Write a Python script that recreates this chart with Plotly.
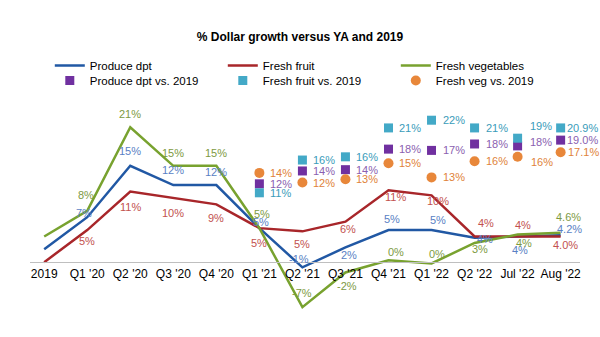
import plotly.graph_objects as go

categories = ["2019", "Q1 '20", "Q2 '20", "Q3 '20", "Q4 '20", "Q1 '21", "Q2 '21",
              "Q3 '21", "Q4 '21", "Q1 '22", "Q2 '22", "Jul '22", "Aug '22"]

produce_ya = [2, 7, 15, 12, 12, 5.3, -0.8, 2.3, 5, 5, 3.8, 4, 4.2]
fruit_ya = [0, 5, 11, 10, 9, 5.3, 4.8, 6.3, 11.2, 10.4, 4, 4, 4.0]
veg_ya = [4, 8, 21, 15, 15, 5.3, -7, -1.6, 0.3, -0.2, 3, 4.3, 4.6]

vs_categories = categories[5:]
produce_vs19 = [12.2, 14.2, 14.4, 17.6, 17.4, 18.4, 18.1, 19.0]
fruit_vs19 = [10.8, 15.9, 16.4, 20.9, 22.1, 20.9, 19.3, 20.9]
veg_vs19 = [13.9, 12.4, 12.9, 15.4, 13.2, 15.7, 16.4, 17.1]


def fmt(vals):
    out = []
    for i, v in enumerate(vals):
        if i == len(vals) - 1:
            out.append(f"{v:.1f}%")
        else:
            out.append(f"{round(v):.0f}%")
    return out


FONT = "Arial, Liberation Sans, sans-serif"
C_BLUE, C_RED, C_GREEN = "#2158a4", "#a8262a", "#78a22f"
T_BLUE, T_RED, T_GREEN = "#5a7fc4", "#c2514e", "#7d9a3f"
C_PURPLE, C_TEAL, C_ORANGE = "#7030a0", "#43a9c7", "#e8873a"
T_PURPLE, T_TEAL, T_ORANGE = "#8a5fb0", "#3a9cba", "#e0833a"

# pixel offsets for the YA line labels (style only)
off_blue = [(-19, -4), (-3, -4), (0, -15), (0, -15), (0, -13), (2, -6), (-3, -8),
            (4, 8), (4, -11), (6, -10), (10, 1), (2, 14), (9, -6)]
off_red = [(-21, -1), (0, 11), (0, 15), (0, 15), (0, 14), (0, 15), (0, 13),
           (3, 7), (7, 7), (6, 6), (11, -13), (5, -11), (5, 9)]
off_green = [(-16, -9), (-1, -16), (0, -13), (0, -13), (0, -13), (3, -14), (0, -14),
             (2, 14), (8, -8), (5, -9), (5, 6), (6, 8), (8, -16)]
# pixel offsets (dx, dy) for the vs-2019 labels (style only)
off_purple = [(9, 0)] * 6 + [(10, -4), (4, 0)]
off_teal = [(9, 0)] * 6 + [(10, -12), (4, 0)]
off_orange = [(9, 0)] * 6 + [(11, 5), (5, 0)]

fig = go.Figure()

line_series = [
    ("Produce dpt", produce_ya, C_BLUE),
    ("Fresh fruit", fruit_ya, C_RED),
    ("Fresh vegetables", veg_ya, C_GREEN),
]
for name, vals, col in line_series:
    fig.add_trace(go.Scatter(x=categories, y=vals, mode="lines", name=name,
                             line=dict(color=col, width=2.5), hoverinfo="skip",
                             legend="legend"))

annotations = []
marker_series = [
    ("Produce dpt vs. 2019", produce_vs19, C_PURPLE, "square", 9, T_PURPLE, off_purple),
    ("Fresh fruit vs. 2019", fruit_vs19, C_TEAL, "square", 9, T_TEAL, off_teal),
    ("Fresh veg vs. 2019", veg_vs19, C_ORANGE, "circle", 10, T_ORANGE, off_orange),
]
for name, vals, col, sym, sz, tcol, offs in marker_series:
    fig.add_trace(go.Scatter(x=vs_categories, y=vals, mode="markers", name=name,
                             marker=dict(color=col, symbol=sym, size=sz),
                             hoverinfo="skip", legend="legend2", cliponaxis=False))
    for c, v, lab, (dx, dy) in zip(vs_categories, vals, fmt(vals), offs):
        annotations.append(dict(x=c, y=v, xref="x", yref="y", text=lab, showarrow=False,
                                xanchor="left", xshift=dx, yshift=-dy,
                                font=dict(color=tcol, size=11, family=FONT)))

for vals, offs, tcol in [(produce_ya, off_blue, T_BLUE), (fruit_ya, off_red, T_RED),
                         (veg_ya, off_green, T_GREEN)]:
    for c, v, lab, (dx, dy) in zip(categories, vals, fmt(vals), offs):
        annotations.append(dict(x=c, y=v, xref="x", yref="y", text=lab, showarrow=False,
                                xshift=dx, yshift=-dy,
                                font=dict(color=tcol, size=11, family=FONT)))

legend_common = dict(orientation="h", x=0.036, xanchor="left", yanchor="middle",
                     entrywidth=128, entrywidthmode="pixels",
                     font=dict(size=11.5, family=FONT, color="#000000"),
                     bgcolor="rgba(0,0,0,0)", itemwidth=30)

ymin, ymax = -9, 24
fig.update_layout(
    width=600, height=337,
    margin=dict(l=30, r=20, t=108, b=17),
    paper_bgcolor="white", plot_bgcolor="white",
    font=dict(family=FONT, size=11, color="#000000"),
    title=dict(text="<b>% Dollar growth versus YA and 2019</b>", x=0.5, xref="container",
               xanchor="center", y=0.89, yref="container", yanchor="middle",
               font=dict(size=12, family=FONT, color="#000000")),
    legend=dict(y=1.200, **legend_common),
    legend2=dict(y=1.130, **legend_common),
    annotations=annotations,
    showlegend=True,
)
fig.update_xaxes(type="category", range=[-0.33, 12.45], showgrid=False, zeroline=False,
                 showline=True, linecolor="#bfbfbf", linewidth=1, ticks="",
                 anchor="free", position=(0 - ymin) / (ymax - ymin),
                 tickfont=dict(size=12, family=FONT, color="#000000"))
fig.update_yaxes(range=[ymin, ymax], visible=False, showgrid=False, zeroline=False)

fig.write_html("out.html")
